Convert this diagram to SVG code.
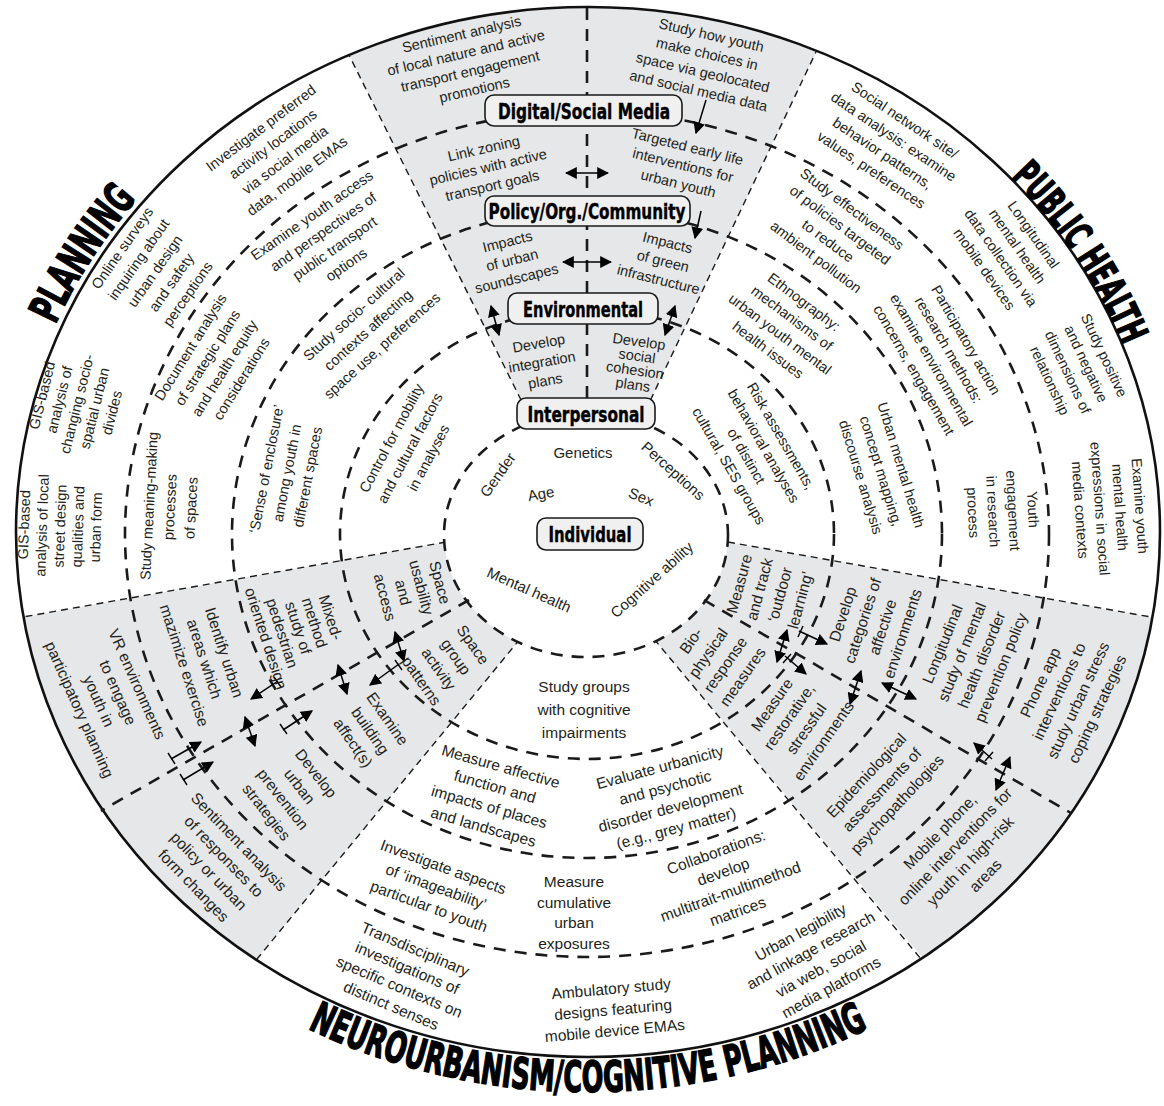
<svg xmlns="http://www.w3.org/2000/svg" width="1164" height="1106" viewBox="0 0 1164 1106">
<style>
.t{font-family:"Liberation Sans",Arial,sans-serif;font-size:15px;fill:#231f20;text-anchor:middle}
.s{font-size:14.5px}
.b{font-size:15.5px}
.ring{fill:none;stroke:#1a1a1a;stroke-width:2.6;stroke-dasharray:12 9}
.core{fill:#fff;stroke:#1a1a1a;stroke-width:2.6;stroke-dasharray:12 9}
.thin{fill:none;stroke:#1a1a1a;stroke-width:1.4;stroke-dasharray:7 5}
.box{fill:#f0f0f0;stroke:#1a1a1a;stroke-width:1.6}
.bl{font-family:"DejaVu Sans Condensed","DejaVu Sans",sans-serif;font-weight:bold;font-size:22px;text-anchor:middle;fill:#000;stroke:#000;stroke-width:0.4}
.ttl{font-family:"DejaVu Sans Condensed","DejaVu Sans",sans-serif;font-weight:bold;font-size:43px;fill:#000;stroke:#000;stroke-width:1.4;text-anchor:middle}
.arr{stroke:#000;stroke-width:1.5;fill:none}
.tk{stroke:#000;stroke-width:1.4}
</style>
<defs>
<marker id="ah" viewBox="0 0 10 10" refX="9" refY="5" markerWidth="12" markerHeight="12" markerUnits="userSpaceOnUse" orient="auto-start-reverse"><path d="M0,0 L10,5 L0,10 z" fill="#000"/></marker>
<clipPath id="oc"><ellipse cx="588" cy="532" rx="572" ry="525"/></clipPath>
<path id="topArc" d="M 9,533 A 579 532 0 0 1 1167,533"/>
<path id="topArc2" d="M 15,533 A 573 527 0 0 1 1161,533"/>
<path id="botArc" d="M -18,533 A 606 559 0 0 0 1194,533"/>
</defs>
<rect width="1164" height="1106" fill="#fff"/>
<g id="background">
<ellipse cx="588" cy="532" rx="572" ry="525" fill="#fff"/>
<g clip-path="url(#oc)" fill="#e6e7e8">
<polygon points="587,533 275,-94 888,-99"/>
<polygon points="446,542 -100,639 125,1119 520,639 560,580"/>
<polygon points="727,542 1280,640 1081,1146 654,639 612,575"/>
</g>
<ellipse cx="588" cy="532" rx="572" ry="525" fill="none" stroke="#111" stroke-width="2.6"/>
</g>
<g id="connectors">
<line class="thin" x1="532" y1="422" x2="349" y2="55"/>
<line class="thin" x1="640" y1="422" x2="816" y2="52"/>
<line class="thin" x1="446" y1="542" x2="23" y2="617"/>
<line class="thin" x1="520" y1="639" x2="257" y2="959"/>
<line class="thin" x1="728" y1="542" x2="1151" y2="617"/>
<line class="thin" x1="654" y1="639" x2="921" y2="959"/>
<ellipse class="ring" cx="587" cy="534" rx="247" ry="225"/>
<ellipse class="ring" cx="587" cy="534" rx="355" ry="324"/>
<ellipse class="ring" cx="587" cy="534" rx="462" ry="423"/>
<ellipse class="core" cx="586" cy="535" rx="142" ry="122"/>
<line class="ring" x1="469" y1="600" x2="101" y2="811"/>
<line class="ring" x1="704" y1="600" x2="1071" y2="813"/>
<line class="ring" x1="587" y1="8" x2="587" y2="413"/>
<line class="arr" x1="566" y1="173" x2="608" y2="173" marker-start="url(#ah)" marker-end="url(#ah)"/>
<line class="arr" x1="563" y1="262" x2="611" y2="262" marker-start="url(#ah)" marker-end="url(#ah)"/>
<line class="arr" x1="706" y1="100" x2="696" y2="133" marker-end="url(#ah)"/>
<line class="arr" x1="701" y1="211" x2="695" y2="238" marker-end="url(#ah)"/>
<line class="arr" x1="491" y1="306" x2="499" y2="335" marker-start="url(#ah)" marker-end="url(#ah)"/>
<line class="arr" x1="675" y1="306" x2="665" y2="335" marker-start="url(#ah)" marker-end="url(#ah)"/>
<line class="arr" x1="395" y1="632" x2="404" y2="661" marker-start="url(#ah)" marker-end="url(#ah)"/>
<line class="arr" x1="338" y1="665" x2="347" y2="694" marker-start="url(#ah)" marker-end="url(#ah)"/>
<line class="arr" x1="245" y1="717" x2="255" y2="746" marker-start="url(#ah)" marker-end="url(#ah)"/>
<line class="arr" x1="399" y1="664" x2="370" y2="685" marker-end="url(#ah)"/>
<line class="tk" x1="395" y1="660" x2="402" y2="670"/>
<line class="arr" x1="278" y1="681" x2="251" y2="699" marker-end="url(#ah)"/>
<line class="tk" x1="274" y1="677" x2="281" y2="687"/>
<line class="arr" x1="283" y1="730" x2="312" y2="711" marker-end="url(#ah)"/>
<line class="tk" x1="280" y1="724" x2="287" y2="734"/>
<line class="arr" x1="171" y1="759" x2="201" y2="742" marker-end="url(#ah)"/>
<line class="tk" x1="168" y1="753" x2="175" y2="764"/>
<line class="arr" x1="183" y1="780" x2="213" y2="762" marker-end="url(#ah)"/>
<line class="tk" x1="180" y1="774" x2="187" y2="785"/>
<line class="arr" x1="787" y1="630" x2="777" y2="662" marker-start="url(#ah)" marker-end="url(#ah)"/>
<line class="arr" x1="861" y1="671" x2="850" y2="704" marker-start="url(#ah)" marker-end="url(#ah)"/>
<line class="arr" x1="882" y1="683" x2="916" y2="699" marker-start="url(#ah)" marker-end="url(#ah)"/>
<line class="arr" x1="799" y1="631" x2="827" y2="644" marker-end="url(#ah)"/>
<line class="tk" x1="803" y1="626" x2="798" y2="637"/>
<line class="arr" x1="785" y1="656" x2="806" y2="674" marker-end="url(#ah)"/>
<line class="tk" x1="791" y1="654" x2="783" y2="663"/>
<line class="arr" x1="992" y1="759" x2="974" y2="743" marker-end="url(#ah)"/>
<line class="tk" x1="985" y1="761" x2="993" y2="752"/>
<line class="arr" x1="1010" y1="757" x2="996" y2="790" marker-start="url(#ah)" marker-end="url(#ah)"/>
</g>
<g id="n-digital"><rect class="box" x="485" y="95" width="197" height="31" rx="9"/><text class="bl" x="584" y="119" textLength="172" lengthAdjust="spacingAndGlyphs">Digital/Social Media</text></g>
<g id="n-policy"><rect class="box" x="485" y="196" width="205" height="30" rx="9"/><text class="bl" x="587" y="219" textLength="197" lengthAdjust="spacingAndGlyphs">Policy/Org./Community</text></g>
<g id="n-environmental"><rect class="box" x="508" y="293" width="150" height="31" rx="9"/><text class="bl" x="583" y="317" textLength="120" lengthAdjust="spacingAndGlyphs">Environmental</text></g>
<g id="n-interpersonal"><rect class="box" x="517" y="398" width="138" height="31" rx="9"/><text class="bl" x="586" y="422" textLength="117" lengthAdjust="spacingAndGlyphs">Interpersonal</text></g>
<g id="n-individual"><rect class="box" x="537" y="518" width="106" height="32" rx="9"/><text class="bl" x="590" y="542" textLength="83" lengthAdjust="spacingAndGlyphs">Individual</text></g>
<g id="titles">
<text class="ttl"><textPath href="#topArc" startOffset="290" textLength="150" lengthAdjust="spacingAndGlyphs">PLANNING</textPath></text>
<text class="ttl" style="font-size:39px"><textPath href="#topArc2" startOffset="1434" textLength="204" lengthAdjust="spacingAndGlyphs">PUBLIC HEALTH</textPath></text>
<text class="ttl"><textPath href="#botArc" startOffset="50%" textLength="580" lengthAdjust="spacingAndGlyphs">NEUROURBANISM/COGNITIVE PLANNING</textPath></text>
</g>
<g id="n-top-texts" class="t s">
<text transform="translate(468,62) rotate(-13)"><tspan x="0" y="-23.5">Sentiment analysis</tspan><tspan x="0" y="-4.5">of local nature and active</tspan><tspan x="0" y="14.5">transport engagement</tspan><tspan x="0" y="33.5">promotions</tspan></text>
<text transform="translate(705,63) rotate(13)"><tspan x="0" y="-23.5">Study how youth</tspan><tspan x="0" y="-4.5">make choices in</tspan><tspan x="0" y="14.5">space via geolocated</tspan><tspan x="0" y="33.5">and social media data</tspan></text>
<text transform="translate(488,167) rotate(-13)"><tspan x="0" y="-14">Link zoning</tspan><tspan x="0" y="5">policies with active</tspan><tspan x="0" y="24">transport goals</tspan></text>
<text transform="translate(683,165) rotate(14)"><tspan x="0" y="-14">Targeted early life</tspan><tspan x="0" y="5">interventions for</tspan><tspan x="0" y="24">urban youth</tspan></text>
<text transform="translate(512,260) rotate(-14)"><tspan x="0" y="-14">Impacts</tspan><tspan x="0" y="5">of urban</tspan><tspan x="0" y="24">soundscapes</tspan></text>
<text transform="translate(663,261) rotate(14)"><tspan x="0" y="-14">Impacts</tspan><tspan x="0" y="5">of green</tspan><tspan x="0" y="24">infrastructure</tspan></text>
<text transform="translate(542,362) rotate(-10)"><tspan x="0" y="-14">Develop</tspan><tspan x="0" y="5">integration</tspan><tspan x="0" y="24">plans</tspan></text>
<text transform="translate(636,363) rotate(8)"><tspan x="0" y="-16.75">Develop</tspan><tspan x="0" y="-2.25">social</tspan><tspan x="0" y="12.25">cohesion</tspan><tspan x="0" y="26.75">plans</tspan></text>
</g>
<g id="n-individual-factors" class="t">
<text transform="translate(583,453)"><tspan x="0" y="5">Genetics</tspan></text>
<text transform="translate(498,475) rotate(-55)"><tspan x="0" y="5">Gender</tspan></text>
<text transform="translate(541,494) rotate(-10)"><tspan x="0" y="5">Age</tspan></text>
<text transform="translate(673,471) rotate(42)"><tspan x="0" y="5">Perceptions</tspan></text>
<text transform="translate(641,497) rotate(22)"><tspan x="0" y="5">Sex</tspan></text>
<text transform="translate(529,590) rotate(24)"><tspan x="0" y="5">Mental health</tspan></text>
<text transform="translate(652,580) rotate(-42)"><tspan x="0" y="5">Cognitive ability</tspan></text>
</g>
<g id="n-planning-texts" class="t s">
<text transform="translate(279,152) rotate(-37)"><tspan x="0" y="-25">Investigate preferred</tspan><tspan x="0" y="-5">activity locations</tspan><tspan x="0" y="15">via social media</tspan><tspan x="0" y="35">data, mobile EMAs</tspan></text>
<text transform="translate(155,271) rotate(-55)"><tspan x="0" y="-35">Online surveys</tspan><tspan x="0" y="-15">inquiring about</tspan><tspan x="0" y="5">urban design</tspan><tspan x="0" y="25">and safety</tspan><tspan x="0" y="45">perceptions</tspan></text>
<text transform="translate(329,240) rotate(-35)"><tspan x="0" y="-25">Examine youth access</tspan><tspan x="0" y="-5">and perspectives of</tspan><tspan x="0" y="15">public transport</tspan><tspan x="0" y="35">options</tspan></text>
<text transform="translate(216,363) rotate(-58)"><tspan x="0" y="-25">Document analysis</tspan><tspan x="0" y="-5">of strategic plans</tspan><tspan x="0" y="15">and health equity</tspan><tspan x="0" y="35">considerations</tspan></text>
<text transform="translate(368,330) rotate(-42)"><tspan x="0" y="-16">Study socio- cultural</tspan><tspan x="0" y="5">contexts affecting</tspan><tspan x="0" y="26">space use, preferences</tspan></text>
<text transform="translate(77,404) rotate(-76)"><tspan x="0" y="-31">GIS-based</tspan><tspan x="0" y="-13">analysis of</tspan><tspan x="0" y="5">changing socio-</tspan><tspan x="0" y="23">spatial urban</tspan><tspan x="0" y="41">divides</tspan></text>
<text transform="translate(60,526) rotate(-88)"><tspan x="0" y="-31">GIS-based</tspan><tspan x="0" y="-13">analysis of local</tspan><tspan x="0" y="5">street design</tspan><tspan x="0" y="23">qualities and</tspan><tspan x="0" y="41">urban form</tspan></text>
<text transform="translate(170,507) rotate(-87)"><tspan x="0" y="-16">Study meaning-making</tspan><tspan x="0" y="5">processes</tspan><tspan x="0" y="26">of spaces</tspan></text>
<text transform="translate(287,473) rotate(-79)"><tspan x="0" y="-16">‘Sense of enclosure’</tspan><tspan x="0" y="5">among youth in</tspan><tspan x="0" y="26">different spaces</tspan></text>
<text transform="translate(410,448) rotate(-62)"><tspan x="0" y="-16">Control for mobility</tspan><tspan x="0" y="5">and cultural factors</tspan><tspan x="0" y="26">in analyses</tspan></text>
</g>
<g id="n-health-texts" class="t s">
<text transform="translate(888,145) rotate(34)"><tspan x="0" y="-25">Social network site/</tspan><tspan x="0" y="-5">data analysis: examine</tspan><tspan x="0" y="15">behavior patterns,</tspan><tspan x="0" y="35">values, preferences</tspan></text>
<text transform="translate(834,233) rotate(37)"><tspan x="0" y="-25">Study effectiveness</tspan><tspan x="0" y="-5">of policies targeted</tspan><tspan x="0" y="15">to reduce</tspan><tspan x="0" y="35">ambient pollution</tspan></text>
<text transform="translate(1009,252) rotate(55)"><tspan x="0" y="-25">Longitudinal</tspan><tspan x="0" y="-5">mental health</tspan><tspan x="0" y="15">data collection via</tspan><tspan x="0" y="35">mobile devices</tspan></text>
<text transform="translate(786,326) rotate(37)"><tspan x="0" y="-25">Ethnography:</tspan><tspan x="0" y="-5">mechanisms of</tspan><tspan x="0" y="15">urban youth mental</tspan><tspan x="0" y="35">health issues</tspan></text>
<text transform="translate(940,355) rotate(60)"><tspan x="0" y="-25">Participatory action</tspan><tspan x="0" y="-5">research methods:</tspan><tspan x="0" y="15">examine environmental</tspan><tspan x="0" y="35">concerns, engagement</tspan></text>
<text transform="translate(1077,368) rotate(65)"><tspan x="0" y="-25">Study positive</tspan><tspan x="0" y="-5">and negative</tspan><tspan x="0" y="15">dimensions of</tspan><tspan x="0" y="35">relationship</tspan></text>
<text transform="translate(755,451) rotate(60)"><tspan x="0" y="-25">Risk assessments,</tspan><tspan x="0" y="-5">behavioral analyses</tspan><tspan x="0" y="15">of distinct</tspan><tspan x="0" y="35">cultural, SES groups</tspan></text>
<text transform="translate(881,471) rotate(73)"><tspan x="0" y="-16">Urban mental health</tspan><tspan x="0" y="5">concept mapping,</tspan><tspan x="0" y="26">discourse analysis</tspan></text>
<text transform="translate(1003,511) rotate(87)"><tspan x="0" y="-25">Youth</tspan><tspan x="0" y="-5">engagement</tspan><tspan x="0" y="15">in research</tspan><tspan x="0" y="35">process</tspan></text>
<text transform="translate(1110,508) rotate(86)"><tspan x="0" y="-25">Examine youth</tspan><tspan x="0" y="-5">mental health</tspan><tspan x="0" y="15">expressions in social</tspan><tspan x="0" y="35">media contexts</tspan></text>
</g>
<g id="n-right-gray-texts" class="t b">
<text transform="translate(770,592) rotate(-75)"><tspan x="0" y="-26.5">Measure</tspan><tspan x="0" y="-5.5">and track</tspan><tspan x="0" y="15.5">‘outdoor</tspan><tspan x="0" y="36.5">learning’</tspan></text>
<text transform="translate(717,659) rotate(-55)"><tspan x="0" y="-26.5">Bio-</tspan><tspan x="0" y="-5.5">physical</tspan><tspan x="0" y="15.5">response</tspan><tspan x="0" y="36.5">measures</tspan></text>
<text transform="translate(873,624) rotate(-72)"><tspan x="0" y="-26.5">Develop</tspan><tspan x="0" y="-5.5">categories of</tspan><tspan x="0" y="15.5">affective</tspan><tspan x="0" y="36.5">environments</tspan></text>
<text transform="translate(798,723) rotate(-55)"><tspan x="0" y="-26.5">Measure</tspan><tspan x="0" y="-5.5">restorative,</tspan><tspan x="0" y="15.5">stressful</tspan><tspan x="0" y="36.5">environments</tspan></text>
<text transform="translate(972,656) rotate(-68)"><tspan x="0" y="-26.5">Longitudinal</tspan><tspan x="0" y="-5.5">study of mental</tspan><tspan x="0" y="15.5">health disorder</tspan><tspan x="0" y="36.5">prevention policy</tspan></text>
<text transform="translate(882,790) rotate(-47)"><tspan x="0" y="-16">Epidemiological</tspan><tspan x="0" y="5">assessments of</tspan><tspan x="0" y="26">psychopathologies</tspan></text>
<text transform="translate(1069,696) rotate(-65)"><tspan x="0" y="-26.5">Phone app</tspan><tspan x="0" y="-5.5">interventions to</tspan><tspan x="0" y="15.5">study urban stress</tspan><tspan x="0" y="36.5">coping strategies</tspan></text>
<text transform="translate(963,854) rotate(-46)"><tspan x="0" y="-26.5">Mobile phone,</tspan><tspan x="0" y="-5.5">online interventions for</tspan><tspan x="0" y="15.5">youth in high-risk</tspan><tspan x="0" y="36.5">areas</tspan></text>
</g>
<g id="n-left-gray-texts" class="t b">
<text transform="translate(412,590) rotate(75)"><tspan x="0" y="-23.5">Space</tspan><tspan x="0" y="-4.5">usability</tspan><tspan x="0" y="14.5">and</tspan><tspan x="0" y="33.5">access</tspan></text>
<text transform="translate(447,663) rotate(55)"><tspan x="0" y="-26.5">Space</tspan><tspan x="0" y="-5.5">group</tspan><tspan x="0" y="15.5">activity</tspan><tspan x="0" y="36.5">patterns</tspan></text>
<text transform="translate(298,628) rotate(72)"><tspan x="0" y="-29">Mixed-</tspan><tspan x="0" y="-12">method</tspan><tspan x="0" y="5">study of</tspan><tspan x="0" y="22">pedestrian</tspan><tspan x="0" y="39">oriented design</tspan></text>
<text transform="translate(370,731) rotate(55)"><tspan x="0" y="-16">Examine</tspan><tspan x="0" y="5">building</tspan><tspan x="0" y="26">affect(s)</tspan></text>
<text transform="translate(204,659) rotate(72)"><tspan x="0" y="-16">Identify urban</tspan><tspan x="0" y="5">areas which</tspan><tspan x="0" y="26">mazimize exercise</tspan></text>
<text transform="translate(291,793) rotate(52)"><tspan x="0" y="-26.5">Develop</tspan><tspan x="0" y="-5.5">urban</tspan><tspan x="0" y="15.5">prevention</tspan><tspan x="0" y="36.5">strategies</tspan></text>
<text transform="translate(108,697) rotate(66)"><tspan x="0" y="-26.5">VR environments</tspan><tspan x="0" y="-5.5">to engage</tspan><tspan x="0" y="15.5">youth in</tspan><tspan x="0" y="36.5">participatory planning</tspan></text>
<text transform="translate(216,864) rotate(46)"><tspan x="0" y="-26.5">Sentiment analysis</tspan><tspan x="0" y="-5.5">of responses to</tspan><tspan x="0" y="15.5">policy or urban</tspan><tspan x="0" y="36.5">form changes</tspan></text>
</g>
<g id="n-bottom-texts" class="t b">
<text transform="translate(584,710)"><tspan x="0" y="-18">Study groups</tspan><tspan x="0" y="5">with cognitive</tspan><tspan x="0" y="28">impairments</tspan></text>
<text transform="translate(492,797) rotate(16)"><tspan x="0" y="-26.5">Measure affective</tspan><tspan x="0" y="-5.5">function and</tspan><tspan x="0" y="15.5">impacts of places</tspan><tspan x="0" y="36.5">and landscapes</tspan></text>
<text transform="translate(668,798) rotate(-15)"><tspan x="0" y="-26.5">Evaluate urbanicity</tspan><tspan x="0" y="-5.5">and psychotic</tspan><tspan x="0" y="15.5">disorder development</tspan><tspan x="0" y="36.5">(e.g., grey matter)</tspan></text>
<text transform="translate(436,887) rotate(20)"><tspan x="0" y="-16">Investigate aspects</tspan><tspan x="0" y="5">of ‘imageability’</tspan><tspan x="0" y="26">particular to youth</tspan></text>
<text transform="translate(574,913)"><tspan x="0" y="-26">Measure</tspan><tspan x="0" y="-5.5">cumulative</tspan><tspan x="0" y="15">urban</tspan><tspan x="0" y="35.5">exposures</tspan></text>
<text transform="translate(727,882) rotate(-20)"><tspan x="0" y="-26.5">Collaborations:</tspan><tspan x="0" y="-5.5">develop</tspan><tspan x="0" y="15.5">multitrait-multimethod</tspan><tspan x="0" y="36.5">matrices</tspan></text>
<text transform="translate(403,978) rotate(23)"><tspan x="0" y="-26">Transdisciplinary</tspan><tspan x="0" y="-5.5">investigations of</tspan><tspan x="0" y="15">specific contexts on</tspan><tspan x="0" y="35.5">distinct senses</tspan></text>
<text transform="translate(613,1010) rotate(-5)"><tspan x="0" y="-16">Ambulatory study</tspan><tspan x="0" y="5">designs featuring</tspan><tspan x="0" y="26">mobile device EMAs</tspan></text>
<text transform="translate(816,960) rotate(-29)"><tspan x="0" y="-26.5">Urban legibility</tspan><tspan x="0" y="-5.5">and linkage research</tspan><tspan x="0" y="15.5">via web, social</tspan><tspan x="0" y="36.5">media platforms</tspan></text>
</g>
</svg>
